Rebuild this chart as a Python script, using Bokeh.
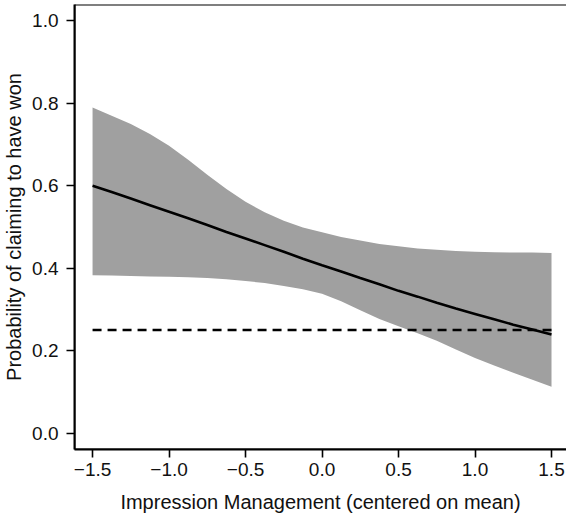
from bokeh.plotting import figure
from bokeh.models import Range1d, FixedTicker, ColumnDataSource, Span
from bokeh.embed import file_html
from bokeh.resources import INLINE

# ---- data ----
x_vals = [-1.5, -1.375, -1.25, -1.125, -1.0, -0.875, -0.75, -0.625, -0.5, -0.375, -0.25, -0.125,
          0.0, 0.125, 0.25, 0.375, 0.5, 0.625, 0.75, 0.875, 1.0, 1.125, 1.25, 1.375, 1.5]
fit = [0.600, 0.585, 0.569, 0.553, 0.537, 0.521, 0.505, 0.488, 0.472, 0.456, 0.440, 0.423,
       0.407, 0.392, 0.376, 0.361, 0.345, 0.331, 0.316, 0.302, 0.289, 0.276, 0.263, 0.251, 0.239]
upper = [0.790, 0.770, 0.750, 0.726, 0.697, 0.663, 0.627, 0.592, 0.561, 0.536, 0.515, 0.499,
         0.487, 0.476, 0.467, 0.459, 0.453, 0.448, 0.445, 0.442, 0.440, 0.439, 0.438, 0.438, 0.437]
lower = [0.383, 0.382, 0.381, 0.380, 0.379, 0.378, 0.376, 0.373, 0.369, 0.364, 0.357, 0.349,
         0.338, 0.320, 0.298, 0.277, 0.259, 0.242, 0.224, 0.203, 0.182, 0.164, 0.146, 0.129, 0.112]
chance_x = [-1.5, 1.5]
chance_y = [0.25, 0.25]

x_ticks = [-1.5, -1.0, -0.5, 0.0, 0.5, 1.0, 1.5]
x_tick_labels = ["\u22121.5", "\u22121.0", "\u22120.5", "0.0", "0.5", "1.0", "1.5"]
y_ticks = [0.0, 0.2, 0.4, 0.6, 0.8, 1.0]
y_tick_labels = ["0.0", "0.2", "0.4", "0.6", "0.8", "1.0"]

x_label = "Impression Management (centered on mean)"
y_label = "Probability of claiming to have won"

FONT = "Liberation Sans"
X0, X1 = -1.618, 1.598
Y0, Y1 = -0.04, 1.04

src = ColumnDataSource(dict(x=x_vals, fit=fit, upper=upper, lower=lower))

p = figure(width=566, height=518,
           x_range=Range1d(X0, X1), y_range=Range1d(Y0, Y1),
           output_backend="svg", toolbar_location=None,
           min_border_left=73, min_border_right=0, min_border_top=4, min_border_bottom=69)

p.outline_line_color = None
p.xgrid.visible = False
p.ygrid.visible = False
p.background_fill_color = "white"
p.border_fill_color = "white"

p.varea(x="x", y1="lower", y2="upper", source=src, fill_color="#a0a0a0", fill_alpha=1.0)
p.line(x="x", y="fit", source=src, line_color="black", line_width=2.6)
p.line(x=chance_x, y=chance_y, line_color="black", line_width=2.6, line_dash="9 6")

# plot box: left, bottom and top sides (the right side lies outside the picture)
for loc, dim in ((X0, "height"), (Y0, "width"), (Y1, "width")):
    p.add_layout(Span(location=loc, dimension=dim, line_color="black", line_width=2))

for ax, ticks, labels, lab in ((p.xaxis[0], x_ticks, x_tick_labels, x_label),
                              (p.yaxis[0], y_ticks, y_tick_labels, y_label)):
    ax.ticker = FixedTicker(ticks=ticks)
    ax.major_label_overrides = {t: l for t, l in zip(ticks, labels)}
    ax.axis_label = lab
    ax.axis_label_text_font = FONT
    ax.axis_label_text_font_style = "normal"
    ax.axis_label_text_font_size = "20px"
    ax.axis_label_text_color = "#111111"
    ax.major_label_text_font = FONT
    ax.major_label_text_font_size = "19px"
    ax.major_label_text_color = "#111111"
    ax.axis_line_color = "black"
    ax.axis_line_width = 2
    ax.major_tick_line_color = "black"
    ax.major_tick_line_width = 1.6
    ax.major_tick_out = 8
    ax.major_tick_in = 0
    ax.minor_tick_line_color = None

p.xaxis[0].major_label_standoff = 5
p.xaxis[0].axis_label_standoff = 12
p.yaxis[0].major_label_standoff = 8
p.yaxis[0].major_label_orientation = "horizontal"
p.yaxis[0].axis_label_standoff = 4

open("out.html", "w").write(file_html(p, INLINE))
